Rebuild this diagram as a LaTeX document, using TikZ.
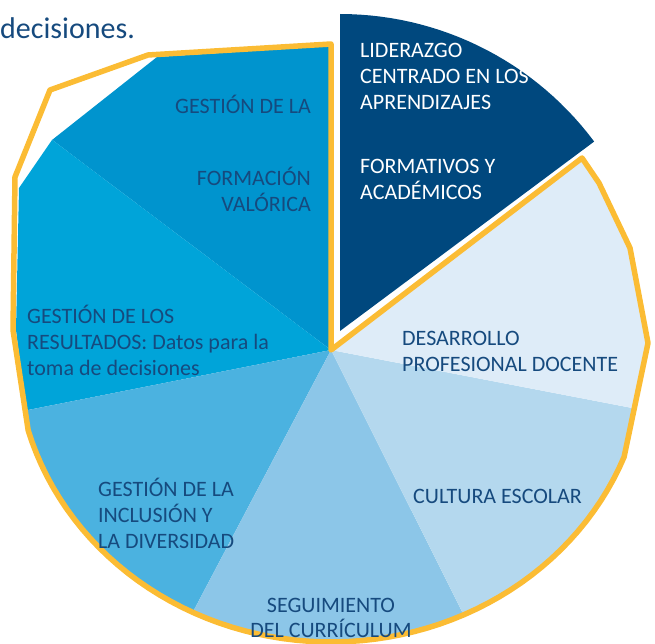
\documentclass[tikz,border=0pt]{standalone}
\usepackage{fontspec}
\setmainfont{Carlito}
\usetikzlibrary{calc}

\definecolor{liderazgocol}{HTML}{00487E}
\definecolor{formacioncol}{HTML}{0094CE}
\definecolor{resultadoscol}{HTML}{00A4D9}
\definecolor{inclusioncol}{HTML}{4BB2E0}
\definecolor{seguimientocol}{HTML}{8CC6E8}
\definecolor{culturacol}{HTML}{B4D8EE}
\definecolor{desarrollocol}{HTML}{DEECF8}
\definecolor{borde}{HTML}{FBBC34}
\definecolor{labelblue}{HTML}{164A7E}

\begin{document}
\begin{tikzpicture}[x=1pt,y=-1pt,
  lbl/.style={text=labelblue,inner sep=0pt,font=\fontsize{22}{26}\selectfont},
  contorno/.style={draw=borde,line width=5.5,line join=round}]
\useasboundingbox (0,0) rectangle (655,644);
\coordinate (c) at (331,350);
\coordinate (apex) at (340,331);

% sectores de la torta, recortados al contorno
\begin{scope}
\clip (c) -- (331,46) -- (157,57) -- (52,140) -- (19,188) -- (16,330)
  -- plot[domain=164:21.5,samples=60] ({331+315*cos(\x)},{350+292*sin(\x)})
  -- (648,343) -- (630,248) -- (599,183) -- (582,158) -- cycle;
\fill[formacioncol] (c) -- +(-90:600) -- +(-143:600) -- cycle;
\fill[resultadoscol] (c) -- +(-143:600) -- +(-191.2:600) -- cycle;
\fill[inclusioncol] (c) -- +(168.8:600) -- +(117.8:600) -- cycle;
\fill[seguimientocol] (c) -- +(117.8:600) -- +(63.4:600) -- cycle;
\fill[culturacol] (c) -- +(63.4:600) -- +(10.9:600) -- cycle;
\fill[desarrollocol] (c) -- +(10.9:600) -- +(-37.4:600) -- cycle;
\end{scope}

% sector separado
\fill[liderazgocol] (apex) -- (340,14)
  -- plot[domain=-90:-36.7,samples=30] ({340+317*cos(\x)},{331+317*sin(\x)}) -- cycle;

% contorno amarillo
\draw[contorno] (c) -- (331,44) -- (148,55) -- (50,90) -- (15,177) -- (13,330)
  -- plot[domain=164:21.5,samples=60] ({331+315*cos(\x)},{350+292*sin(\x)})
  -- (648,343) -- (630,248) -- (599,183) -- (582,158) -- cycle;

\node[text=labelblue,inner sep=0pt,anchor=base west,font=\fontsize{30}{36}\selectfont] (decisiones) at (0,39) {decisiones.};
\node[lbl,text=white,align=left,anchor=north west] (liderazgo) at (360,42.8) {LIDERAZGO\\CENTRADO EN LOS\\APRENDIZAJES\\[38pt]FORMATIVOS Y\\ACADÉMICOS};
\node[lbl,align=right,anchor=north east] (formacion) at (311,95.4) {GESTIÓN DE LA\\[46pt]FORMACIÓN\\VALÓRICA};
\node[lbl,align=left,anchor=north west] (resultados) at (27,305.4) {GESTIÓN DE LOS\\RESULTADOS: Datos para la\\toma de decisiones};
\node[lbl,align=left,anchor=north west] (desarrollo) at (402,330.8) {DESARROLLO\\PROFESIONAL DOCENTE};
\node[lbl,anchor=base west] (cultura) at (413,503) {CULTURA ESCOLAR};
\node[lbl,align=center,anchor=north] (seguimiento) at (331,598) {SEGUIMIENTO\\[-1pt]DEL CURRÍCULUM};
\node[lbl,align=left,anchor=north west] (inclusion) at (98,478.4) {GESTIÓN DE LA\\INCLUSIÓN Y\\LA DIVERSIDAD};
\end{tikzpicture}
\end{document}
